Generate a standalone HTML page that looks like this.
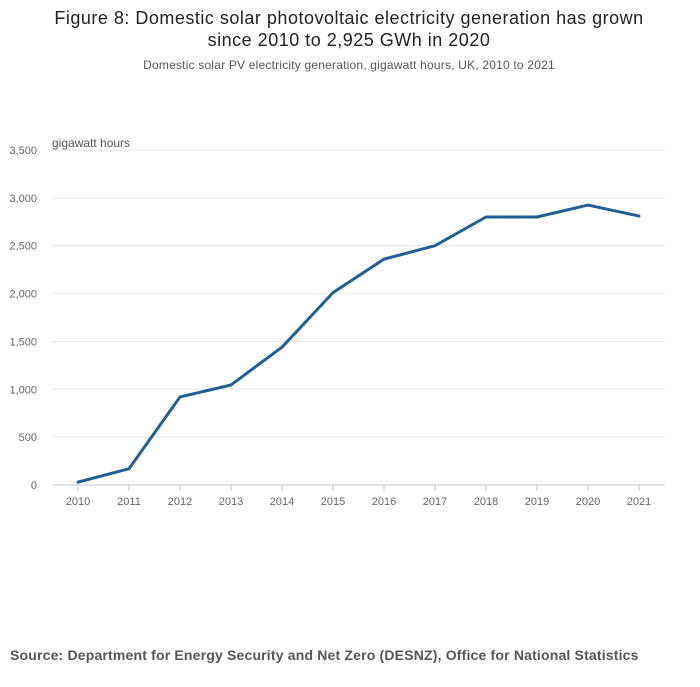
<!DOCTYPE html>
<html><head><meta charset="utf-8"><style>
body{margin:0;background:#fff;font-family:"Liberation Sans",sans-serif;}
svg text{font-family:"Liberation Sans",sans-serif;}
</style></head><body>
<svg width="700" height="682">
<text x="349" y="24" text-anchor="middle" font-size="18" letter-spacing="0.5" fill="#222">Figure 8: Domestic solar photovoltaic electricity generation has grown</text>
<text x="349" y="46" text-anchor="middle" font-size="18" letter-spacing="0.5" fill="#222">since 2010 to 2,925 GWh in 2020</text>
<text x="349" y="69" text-anchor="middle" font-size="12" letter-spacing="0.2" fill="#555">Domestic solar PV electricity generation, gigawatt hours, UK, 2010 to 2021</text>
<text x="52" y="147" font-size="12" fill="#555">gigawatt hours</text>
<g id="grid"></g><g id="xax"></g><g id="series"></g>
<text x="10" y="660" font-size="14" letter-spacing="0.18" font-weight="bold" fill="#555">Source: Department for Energy Security and Net Zero (DESNZ), Office for National Statistics</text>
</svg>
<script>
const years=[2010,2011,2012,2013,2014,2015,2016,2017,2018,2019,2020,2021];
const values=[30,170,920,1045,1440,2010,2360,2500,2800,2800,2925,2810];
const yTicks=[0,500,1000,1500,2000,2500,3000,3500];
const NS="http://www.w3.org/2000/svg";
const x0=52,x1=665,y0=485,y1=150;
const xs=i=>78+i*(639-78)/(years.length-1);
const ys=v=>y0-(v/3500)*(y0-y1);
function mk(t,a,p){const e=document.createElementNS(NS,t);for(const k in a)e.setAttribute(k,a[k]);p.appendChild(e);return e;}
const g=document.getElementById('grid');
yTicks.forEach(v=>{
 const l=mk('line',{x1:x0,x2:x1,y1:ys(v),y2:ys(v),stroke:v===0?'#bfcad6':'#e6e6e6','stroke-width':1},g);
 
 
 const t=mk('text',{x:37,y:ys(v)+4,'text-anchor':'end','font-size':11,fill:'#666'},g);
 t.textContent=v.toLocaleString('en-US');
 
 
});
const xa=document.getElementById('xax');
years.forEach((y,i)=>{
 const l=mk('line',{x1:xs(i),x2:xs(i),y1:y0,y2:y0+6,stroke:'#bfcad6'},xa);
 
 
 const t=mk('text',{x:xs(i),y:y0+20,'text-anchor':'middle','font-size':11,fill:'#666'},xa);
 t.textContent=y;
 
 
});
const p=mk('polyline',{points:values.map((v,i)=>xs(i)+','+ys(v)).join(' '),fill:'none',stroke:'#206095','stroke-width':3,'stroke-linejoin':'round','stroke-linecap':'round'},document.getElementById('series'));


</script>
</body></html>
